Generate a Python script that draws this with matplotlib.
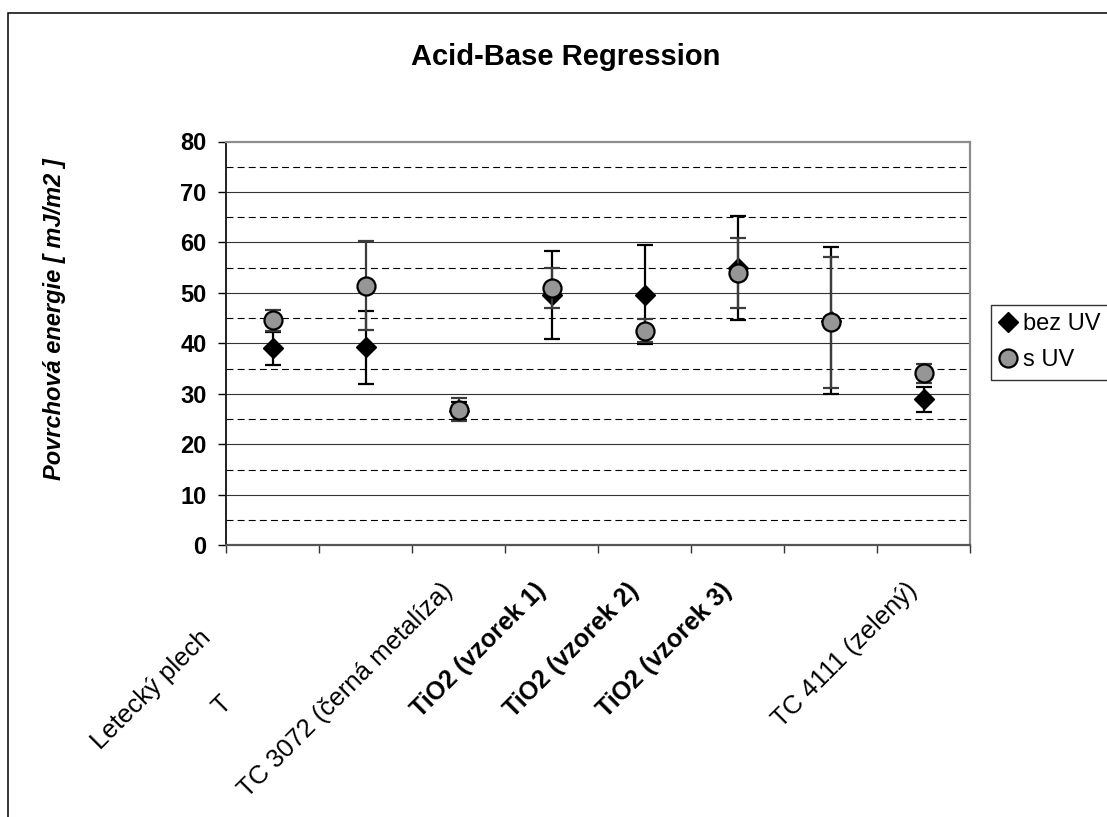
import matplotlib.pyplot as plt
from matplotlib.patches import Rectangle
import numpy as np

plt.rcParams['font.family'] = ['Liberation Sans', 'DejaVu Sans']
plt.rcParams['lines.scale_dashes'] = False

# data
categories = ["Letecký plech", "T", "TC 3072 (černá metalíza)", "TiO2 (vzorek 1)",
              "TiO2 (vzorek 2)", "TiO2 (vzorek 3)", "", "TC 4111 (zelený)"]
bold_labels = [False, False, False, True, True, True, False, False]
bez_uv = [39.0, 39.2, 26.6, 49.6, 49.6, 55.0, 44.5, 28.9]
bez_uv_err = [3.2, 7.3, 1.8, 8.8, 9.8, 10.3, 14.6, 2.4]
s_uv = [44.6, 51.4, 26.9, 51.0, 42.5, 53.9, 44.2, 34.1]
s_uv_err = [2.1, 8.8, 2.35, 3.9, 2.3, 6.9, 13.0, 1.9]

W, H = 1107, 817
fig = plt.figure(figsize=(W/100, H/100), dpi=100)
ax = fig.add_axes([226/W, 1-545.3/H, (970-226)/W, (545.3-141.5)/H])

x = np.arange(len(categories))

# gridlines
for v in range(10, 80, 10):
    ax.axhline(v, color='#333333', lw=0.8, zorder=1)
for v in range(5, 80, 10):
    ax.axhline(v, color='black', lw=0.8, dashes=(5, 3), zorder=1)

ax.errorbar(x, bez_uv, yerr=bez_uv_err, fmt='D', color='black', ms=10.5,
            ecolor='black', elinewidth=1.6, capsize=6, capthick=1.6, zorder=3)
ax.errorbar(x, s_uv, yerr=s_uv_err, fmt='o', mfc='#969696', mec='black', mew=1.6,
            ms=13, ecolor='#3c3c3c', elinewidth=1.6, capsize=6, capthick=1.6, zorder=4)

ax.set_xlim(-0.5, len(categories) - 0.5)
ax.set_ylim(0, 80)
ax.set_yticks(range(0, 81, 10))
ax.set_yticklabels([str(v) for v in range(0, 81, 10)], fontsize=17, fontweight='bold')
ax.set_xticks(np.arange(-0.5, len(categories), 1))
ax.set_xticklabels([])
ax.tick_params(axis='y', length=6, width=1, pad=8, color='black')
ax.tick_params(axis='x', length=6, width=1, color='#333333')

for s in ['top', 'right']:
    ax.spines[s].set_color('#8c8c8c')
    ax.spines[s].set_linewidth(1.6)
ax.spines['left'].set_color('#202020')
ax.spines['left'].set_linewidth(1.4)
ax.spines['bottom'].set_color('#555555')
ax.spines['bottom'].set_linewidth(1.6)

# category labels
label_offsets = {0: (-74, -80), 1: (-146, -146)}
for i, lab in enumerate(categories):
    if not lab:
        continue
    dx, dy = label_offsets.get(i, (-18, -33))
    ax.annotate(lab, xy=(x[i], 0), xycoords=('data', 'axes fraction'),
                xytext=(dx, dy), textcoords='offset pixels', rotation=45,
                ha='right', va='top', rotation_mode='anchor',
                fontsize=18 if bold_labels[i] else 18.5,
                fontweight='bold' if bold_labels[i] else 'normal', annotation_clip=False)

fig.text(0.511, 1-57/H, "Acid-Base Regression", ha='center', va='center',
         fontsize=21, fontweight='bold')
fig.text(55/W, 1-319/H, "Povrchová energie [ mJ/m2 ]", ha='center', va='center',
         rotation=90, fontsize=17, fontweight='bold', fontstyle='italic')

h1 = plt.Line2D([], [], marker='D', color='black', ls='none', ms=10.5)
h2 = plt.Line2D([], [], marker='o', mfc='#969696', mec='black', mew=1.6, ls='none', ms=13)
leg = fig.legend([h1, h2], ["bez UV", "s UV"], loc='upper left',
                 bbox_to_anchor=(991/W, 1-305/H), fontsize=17, frameon=True,
                 fancybox=False, edgecolor='black', handlelength=0.7,
                 handletextpad=0.3, borderpad=0.35, labelspacing=0.6, borderaxespad=0)
leg.get_frame().set_linewidth(1.0)

fig.add_artist(Rectangle((8/W, -0.5), 2, 0.5 + 1 - 13.3/H, transform=fig.transFigure,
                         fill=False, edgecolor='black', lw=1.1))

fig.savefig('out.png', dpi=100)
